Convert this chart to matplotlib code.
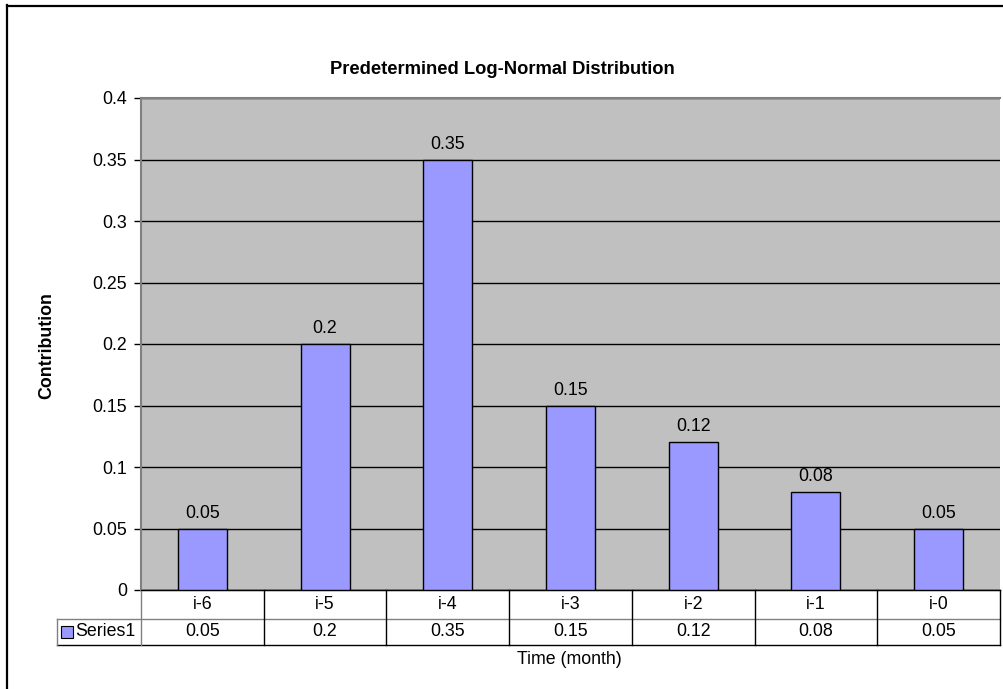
import matplotlib.pyplot as plt
import matplotlib.transforms as mtransforms
from matplotlib.patches import Rectangle
from matplotlib.lines import Line2D

# данные графика
categories = ["i-6", "i-5", "i-4", "i-3", "i-2", "i-1", "i-0"]
contribution = [0.05, 0.2, 0.35, 0.15, 0.12, 0.08, 0.05]
yticks = [0, 0.05, 0.1, 0.15, 0.2, 0.25, 0.3, 0.35, 0.4]
series_name = "Series1"

plt.rcParams["font.family"] = ["Liberation Sans", "DejaVu Sans"]
fs = 12.8
bar_color = "#9999FF"

W, H = 1004, 689
fig = plt.figure(figsize=(W / 100, H / 100), dpi=100)
ax = fig.add_axes([141 / W, (H - 590) / H, 859 / W, 492 / H])

x = list(range(len(categories)))
ax.set_facecolor("#C0C0C0")
ax.bar(x, contribution, width=0.4, color=bar_color, edgecolor="black", linewidth=1, zorder=3)
for xi, v in zip(x, contribution):
    ax.annotate(f"{v:g}", (xi, v), xytext=(0, 5), textcoords="offset points",
                ha="center", va="bottom", fontsize=fs)

ax.set_xlim(-0.5, len(categories) - 0.5)
ax.set_ylim(0, 0.4)
ax.set_yticks(yticks)
ax.set_yticklabels([f"{t:g}" for t in yticks], fontsize=fs)
ax.tick_params(axis="y", length=5, width=1, pad=5, color="black")
ax.tick_params(axis="x", bottom=False, labelbottom=False)
ax.yaxis.grid(True, color="black", linewidth=1, zorder=1)
ax.set_axisbelow(True)
for side in ["top", "left"]:
    ax.spines[side].set_color("#808080")
    ax.spines[side].set_linewidth(1.5)
ax.spines["right"].set_visible(False)
ax.spines["bottom"].set_color("black")

fig.text(47 / W, 1 - 346 / H, "Contribution", rotation=90, ha="center", va="center",
         fontsize=fs, fontweight="bold")
fig.text(0.5, 1 - 70 / H, "Predetermined Log-Normal Distribution", ha="center", va="center",
         fontsize=fs + 0.4, fontweight="bold")

# таблица данных под осью
trans = mtransforms.blended_transform_factory(ax.transData, ax.transAxes)
row1 = -29 / 492
row2 = -55 / 492
x_left = -0.5 - 84 / (859 / 7)
x_right = len(categories) - 0.5
line_kw = dict(transform=trans, clip_on=False, linewidth=1)
ax.add_line(Line2D([-0.5, x_right], [0, 0], color="black", **line_kw))
ax.add_line(Line2D([x_left, x_right], [row1, row1], color="#808080", **line_kw))
ax.add_line(Line2D([x_left, x_right], [row2, row2], color="black", **line_kw))
ax.add_line(Line2D([-0.5, -0.5], [0, row2], color="#808080", **line_kw))
ax.add_line(Line2D([x_left, x_left], [row1, row2], color="#808080", **line_kw))
for i in range(1, len(categories) + 1):
    ax.add_line(Line2D([i - 0.5, i - 0.5], [0, row2], color="black", **line_kw))
for xi, c, v in zip(x, categories, contribution):
    ax.text(xi, row1 / 2, c, transform=trans, ha="center", va="center", fontsize=fs)
    ax.text(xi, (row1 + row2) / 2, f"{v:g}", transform=trans, ha="center", va="center", fontsize=fs)

# легенда в строке таблицы
sw = 12 / (859 / 7)
ax.add_patch(Rectangle((x_left + 0.03, (row1 + row2) / 2 - 6 / 492), sw, 12 / 492,
                       transform=trans, clip_on=False, facecolor=bar_color,
                       edgecolor="black", linewidth=0.8))
ax.text(x_left + 0.03 + sw + 0.02, (row1 + row2) / 2, series_name, transform=trans,
        ha="left", va="center", fontsize=fs)

fig.text(569 / W, 1 - 660 / H, "Time (month)", ha="center", va="center", fontsize=fs)

# рамка области диаграммы
fig.add_artist(Line2D([7 / W, 1], [1 - 5.5 / H, 1 - 5.5 / H], color="black", linewidth=1.6))
fig.add_artist(Line2D([7.5 / W, 7.5 / W], [0, 1 - 5 / H], color="black", linewidth=1.6))

fig.savefig("out.png", dpi=100)
